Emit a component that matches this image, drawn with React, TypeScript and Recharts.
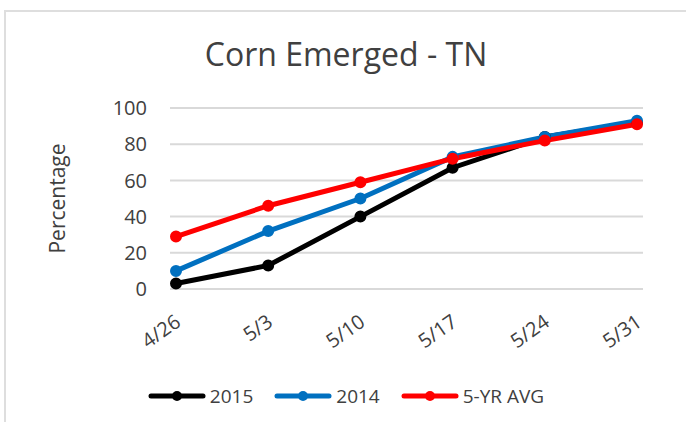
import { LineChart, Line, XAxis, YAxis, CartesianGrid, Legend } from "recharts";

const weeks = ["4/26", "5/3", "5/10", "5/17", "5/24", "5/31"];
const y2015 = [3, 13, 40, 67, 84, 92];
const y2014 = [10, 32, 50, 73, 84, 93];
const avg5yr = [29, 46, 59, 72, 82, 91];
const yTicks = [0, 20, 40, 60, 80, 100];

const SERIES = [
  { key: "y2015", name: "2015", color: "#000000" },
  { key: "y2014", name: "2014", color: "#0070c0" },
  { key: "avg", name: "5-YR AVG", color: "#ff0000" },
];

const FONT = "'Open Sans', sans-serif";
const TEXT = "#404040";

const data = weeks.map((w, i) => ({
  week: w,
  y2015: y2015[i],
  y2014: y2014[i],
  avg: avg5yr[i],
}));

function WeekTick(props: any) {
  const { x, y, payload } = props;
  const px = x + 6;
  const py = y + 36;
  return (
    <text
      x={px}
      y={py}
      textAnchor="end"
      transform={`rotate(-35, ${px}, ${py})`}
      fill={TEXT}
      fontSize={20}
      fontFamily={FONT}
    >
      {payload.value}
    </text>
  );
}

function LegendBox() {
  return (
    <div style={{ display: "flex", justifyContent: "center", gap: 21, fontFamily: FONT, fontSize: 19, color: TEXT }}>
      {SERIES.map((s) => (
        <div key={s.key} style={{ display: "flex", alignItems: "center", gap: 4 }}>
          <svg width={58} height={14}>
            <line x1={3} y1={7} x2={55} y2={7} stroke={s.color} strokeWidth={5} strokeLinecap="round" />
            <circle cx={29} cy={7} r={5} fill={s.color} />
          </svg>
          <span>{s.name}</span>
        </div>
      ))}
    </div>
  );
}

export default function App() {
  return (
    <div style={{ position: "absolute", left: 0, top: 0, width: 686, height: 422, background: "#fff", overflow: "hidden" }}>
      <div
        style={{
          position: "absolute",
          left: 4,
          top: 10,
          width: 700,
          height: 430,
          borderLeft: "2px solid #dedede",
          borderTop: "2px solid #dedede",
        }}
      />
      <div
        style={{
          position: "absolute",
          left: 0,
          width: 692,
          top: 34,
          textAlign: "center",
          fontFamily: FONT,
          fontSize: 32,
          color: TEXT,
          lineHeight: "40px",
        }}
      >
        Corn Emerged - TN
      </div>
      <div style={{ position: "absolute", left: 0, top: 0 }}>
        <LineChart width={686} height={422} data={data} margin={{ top: 108, right: 43, left: 0, bottom: 73 }}>
          <CartesianGrid vertical={false} stroke="#d9d9d9" strokeWidth={2} />
          <XAxis
            dataKey="week"
            height={60}
            axisLine={false}
            tickLine={false}
            tickSize={0}
            tickMargin={0}
            padding={{ left: 6, right: 6 }}
            interval={0}
            tick={<WeekTick />}
          />
          <YAxis
            width={170}
            domain={[0, 100]}
            ticks={yTicks}
            axisLine={false}
            tickLine={false}
            tickSize={0}
            tickMargin={23}
            tick={{ fill: TEXT, fontSize: 20, fontFamily: FONT }}
            label={{
              value: "Percentage",
              angle: -90,
              position: "center",
              dx: -27,
              fill: TEXT,
              fontSize: 21,
              fontFamily: FONT,
            }}
          />
          <Legend
            layout="horizontal"
            verticalAlign="middle"
            align="center"
            content={<LegendBox />}
            wrapperStyle={{ position: "absolute", left: 0, top: 383, width: 692, height: 24 }}
          />
          {SERIES.map((s) => (
            <Line
              key={s.key}
              dataKey={s.key}
              name={s.name}
              stroke={s.color}
              strokeWidth={5}
              dot={{ r: 5, fill: s.color, stroke: s.color, strokeWidth: 2 }}
              activeDot={false}
              isAnimationActive={false}
            />
          ))}
        </LineChart>
      </div>
    </div>
  );
}
